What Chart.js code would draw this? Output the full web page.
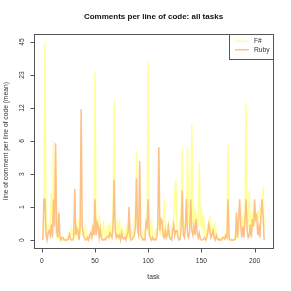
<!DOCTYPE html>
<html>
<head>
<meta charset="utf-8">
<script src="https://cdn.jsdelivr.net/npm/chart.js@4.4.1/dist/chart.umd.min.js"></script>
<style>
  html, body { margin: 0; padding: 0; background: #fff; }
  canvas { display: block; }
</style>
</head>
<body>
<canvas id="commentsChart" width="291" height="291"></canvas>
<script>
// mean comments per line of code, one value per task (tasks 1..209)
var seriesNames = ["F#", "Ruby"];

var fsharp = [
  0, 0.3, 45, 0.2, 0, 0.3, 0.1, 0.5, 1.5, 0.2,
  5.8, 0.5, 0.3, 0.1, 0.2, 0.05, 0, 0, 0.05, 0,
  0, 0.02, 0, 0.05, 0.1, 0.15, 0.05, 0.25, 0.1, 0.05,
  0.2, 0.3, 0.1, 0.2, 0.5, 0.1, 0.6, 0.5, 0.2, 0.1,
  0.3, 0.1, 0, 0.05, 0.1, 0.05, 0.3, 0.1, 0.2, 25,
  0.2, 0.3, 0.1, 0.6, 0.2, 0.05, 0.1, 0.45, 0.1, 0.05,
  0.2, 0.3, 0.1, 0.4, 0.1, 0.3, 0.6, 13.7, 0.3, 0.1,
  0.4, 0.2, 0.5, 0.1, 0.05, 0.2, 0.1, 0.05, 0.3, 0.1,
  0.05, 0.4, 0.1, 0.2, 0.05, 0.2, 0.4, 0.6, 4.5, 0.3,
  0.5, 0.4, 0.2, 0.1, 0.05, 0.2, 0.1, 0.6, 0.5, 30,
  0.2, 0.1, 0.5, 0.1, 0.05, 0.1, 0.2, 0.1, 0.4, 0.5,
  0.1, 0.3, 0.2, 0.1, 1.2, 0.2, 0.1, 0.3, 0.2, 0.1,
  0.05, 0.2, 0.4, 0.5, 1.5, 2.2, 0.3, 0.1, 0.2, 0.5,
  0.6, 4.8, 0.3, 0.2, 0.5, 0.4, 5, 0.3, 0.6, 0.5,
  8.3, 0.4, 0.3, 0.8, 0.6, 0.3, 0.4, 3.5, 0.3, 0.9,
  0.2, 0.6, 0.1, 0.2, 0.05, 0.3, 0.2, 0.6, 0.1, 0.3,
  0.2, 0.1, 0.4, 0.05, 0.1, 0.05, 0, 0.02, 0, 0.05,
  0.02, 0.1, 0.05, 0.1, 5.3, 0.1, 0, 0.02, 0, 0,
  0.05, 0.1, 0.2, 0.3, 0.1, 0.4, 0.8, 0.2, 0.6, 0.3,
  0.5, 13.2, 0.4, 0.3, 1.6, 0.2, 0.6, 0.4, 0.8, 0.3,
  0.7, 0.4, 0.8, 0.5, 0.9, 0.6, 0.8, 1.8, 0.3
];

var ruby = [
  0, 1.2, 1.2, 0.1, 0, 0.15, 0.2, 0.1, 0.35, 0.05,
  1.2, 0.3, 5.5, 0.2, 0.05, 0.7, 0.1, 0, 0.05, 0.05,
  0, 0, 0, 0, 0.02, 0.12, 0.02, 0, 0, 0.05,
  1.7, 0.1, 0.25, 0.2, 0, 0.3, 11.5, 0.3, 0.1, 0.05,
  0, 0, 0.05, 0, 0.1, 0.15, 0.05, 0.25, 0.1, 1.2,
  0.1, 0.4, 0.3, 0.05, 0.25, 0.05, 0, 0, 0.02, 0,
  0.05, 0.08, 0.05, 0.15, 0.1, 0.05, 0.3, 2.2, 0.2, 0.05,
  0.1, 0.05, 0.1, 0, 0.15, 0.05, 0.02, 0.05, 0, 0.1,
  0.15, 0.9, 0.05, 0, 0.02, 0.05, 0.1, 0.3, 2.3, 0.2,
  0.1, 3.6, 0.1, 0.05, 0, 0.02, 0, 0.4, 0.3, 1.2,
  0.1, 0.05, 0, 0.05, 0, 0.02, 0, 0.05, 0.3, 5,
  0.2, 0.5, 0.45, 0.1, 0.05, 0.2, 0.05, 0.1, 0.3, 0.05,
  0.02, 0, 0.2, 0.35, 0.1, 0.2, 0.2, 0.05, 0, 0.02,
  0.3, 1.6, 0.1, 0.05, 0.3, 1.2, 0.1, 0.05, 0.2, 1.2,
  0.2, 0.1, 0.3, 0.1, 0.5, 0.15, 0.05, 0.15, 0.02, 0,
  0, 0.02, 0.05, 0, 0.05, 0.15, 0.35, 0.2, 0.05, 0.1,
  0.2, 0.05, 0, 0.1, 0.02, 0, 0.02, 0, 0, 0.05,
  0.05, 0.02, 0.1, 0.05, 1.2, 0.05, 0, 0, 0, 0,
  0, 0.02, 0.7, 0.05, 0.5, 1.2, 0.3, 0.05, 0.3, 0.05,
  0.5, 1.2, 0.2, 0.05, 0.1, 0.35, 0.05, 0.5, 0.3, 1.2,
  0.5, 0.6, 0.1, 0.3, 0.05, 0.6, 1.2, 0.6, 0
];

var xTicks = [0, 50, 100, 150, 200];
var yTickLabels = ["0", "1", "3", "6", "12", "23", "45"];
var colors = ["#FFFF99", "#FDC086"];

// y is drawn on a log(1 + v) scale, ticks evenly spaced up to the max
function toPoints(arr){
    return arr.map(function(v, i){ return { x: i + 1, y: Math.log1p(v) }; });
}
var yTop = Math.log1p(45);
var yStep = yTop / (yTickLabels.length - 1);
var nTasks = ruby.length;
var xPad = (nTasks - 1) * 0.04;
var yPad = yTop * 0.04;

var rAxes = {
    id: 'rAxes',
    afterDraw: function(chart){
        var ctx = chart.ctx;
        var a = chart.chartArea;
        var xs = chart.scales.x, ys = chart.scales.y;
        ctx.save();
        ctx.strokeStyle = '#555';
        ctx.lineWidth = 1;
        ctx.strokeRect(Math.round(a.left) + 0.5, Math.round(a.top) + 0.5,
            Math.round(a.right - a.left), Math.round(a.bottom - a.top));

        ctx.fillStyle = '#333';
        ctx.font = '6.7px "Liberation Sans", Arial, sans-serif';

        // x axis
        var bx = Math.round(a.bottom) + 0.5;
        var x0 = xs.getPixelForValue(xTicks[0]), x1 = xs.getPixelForValue(xTicks[xTicks.length - 1]);
        ctx.beginPath();
        ctx.moveTo(x0, bx); ctx.lineTo(x1, bx);
        xTicks.forEach(function(t){
            var px = Math.round(xs.getPixelForValue(t)) + 0.5;
            ctx.moveTo(px, bx); ctx.lineTo(px, bx + 4);
        });
        ctx.stroke();
        ctx.textAlign = 'center';
        ctx.textBaseline = 'middle';
        xTicks.forEach(function(t){
            ctx.fillText(String(t), xs.getPixelForValue(t), 261);
        });

        // y axis
        var lx = Math.round(a.left) + 0.5;
        ctx.beginPath();
        ctx.moveTo(lx, ys.getPixelForValue(0)); ctx.lineTo(lx, ys.getPixelForValue(yTop));
        yTickLabels.forEach(function(lab, k){
            var py = Math.round(ys.getPixelForValue(k * yStep)) + 0.5;
            ctx.moveTo(lx, py); ctx.lineTo(lx - 4, py);
        });
        ctx.stroke();
        yTickLabels.forEach(function(lab, k){
            var py = ys.getPixelForValue(k * yStep);
            ctx.save();
            ctx.translate(22, py);
            ctx.rotate(-Math.PI / 2);
            ctx.fillText(lab, 0, 0);
            ctx.restore();
        });

        // axis titles
        ctx.fillText('task', (a.left + a.right) / 2, 277);
        ctx.save();
        ctx.translate(6, (a.top + a.bottom) / 2);
        ctx.rotate(-Math.PI / 2);
        ctx.fillText('line of comment per line of code (mean)', 0, 0);
        ctx.restore();

        // main title
        ctx.fillStyle = '#111';
        ctx.font = 'bold 8px "Liberation Sans", Arial, sans-serif';
        ctx.fillText('Comments per line of code: all tasks', (a.left + a.right) / 2, 16.5);

        // legend
        var lw = 44, lh = 25;
        var lxl = Math.round(a.right) - lw;
        ctx.fillStyle = '#fff';
        ctx.fillRect(lxl, Math.round(a.top), lw, lh);
        ctx.strokeStyle = '#555';
        ctx.strokeRect(lxl + 0.5, Math.round(a.top) + 0.5, lw, lh);
        ctx.font = '6.7px "Liberation Sans", Arial, sans-serif';
        ctx.textAlign = 'left';
        seriesNames.forEach(function(name, i){
            var yy = a.top + 7.2 + i * 8.6;
            ctx.strokeStyle = colors[i];
            ctx.lineWidth = 1.5;
            ctx.beginPath();
            ctx.moveTo(lxl + 6, yy); ctx.lineTo(lxl + 20, yy);
            ctx.stroke();
            ctx.fillStyle = '#333';
            ctx.fillText(name, lxl + 25, yy);
        });
        ctx.restore();
    }
};

var ctx = document.getElementById('commentsChart').getContext('2d');
var chart = new Chart(ctx, {
    type: 'line',
    data: {
        datasets: [{
            label: seriesNames[0],
            data: toPoints(fsharp),
            borderColor: colors[0],
            borderWidth: 1.5,
            pointRadius: 0,
            tension: 0,
            order: 2
        }, {
            label: seriesNames[1],
            data: toPoints(ruby),
            borderColor: colors[1],
            borderWidth: 1.5,
            pointRadius: 0,
            tension: 0,
            order: 1
        }]
    },
    options: {
        responsive: false,
        animation: false,
        layout: { padding: { left: 34, top: 34, right: 18, bottom: 43 } },
        plugins: { legend: { display: false }, tooltip: { enabled: false } },
        scales: {
            x: { type: 'linear', display: false, min: 1 - xPad, max: nTasks + xPad },
            y: { type: 'linear', display: false, min: -yPad, max: yTop + yPad }
        }
    },
    plugins: [rAxes]
});
</script>
</body>
</html>
